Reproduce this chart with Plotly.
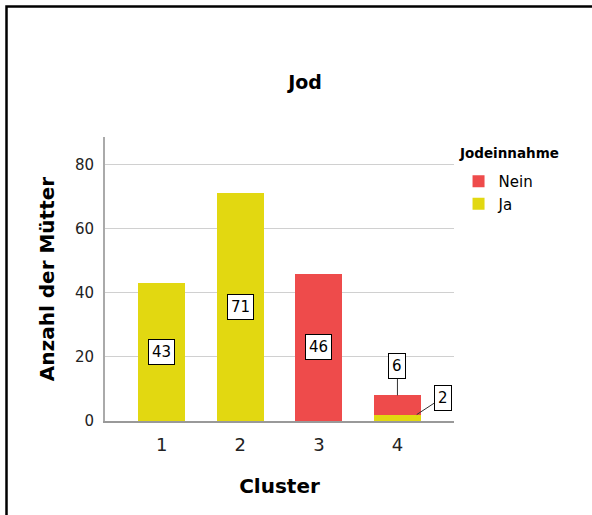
import plotly.graph_objects as go

clusters = [1, 2, 3, 4]
ja_values = [43, 71, 0, 2]
nein_values = [0, 0, 46, 6]
y_ticks = [0, 20, 40, 60, 80]

title_text = "Jod"
x_title = "Cluster"
y_title = "Anzahl der Mütter"
legend_title = "Jodeinnahme"

YELLOW = "#E2D811"
RED = "#EE4B4B"
FONT = "DejaVu Sans"

fig = go.Figure()
fig.add_trace(go.Bar(x=clusters, y=ja_values, name="Ja", marker=dict(color=YELLOW, line=dict(width=0)), width=0.6))
fig.add_trace(go.Bar(x=clusters, y=nein_values, name="Nein", marker=dict(color=RED, line=dict(width=0)), width=0.6))

annotations = []
label_style = dict(bgcolor="white", bordercolor="black", borderwidth=1, borderpad=3,
                   font=dict(family=FONT, size=15, color="black"), arrowcolor="#333333",
                   arrowwidth=1, arrowhead=0)
for i, c in enumerate(clusters):
    base = 0
    for val, kind in ((ja_values[i], "ja"), (nein_values[i], "nein")):
        if val:
            if val >= 10:
                annotations.append(dict(x=c, y=base + val / 2, text=str(val), showarrow=False, **label_style))
            elif kind == "nein":
                annotations.append(dict(x=c, y=base + val, text=str(val), showarrow=True, ax=0, ay=-29, **label_style))
            else:
                annotations.append(dict(x=c + 0.245, y=base + val, text=str(val), showarrow=True, ax=26, ay=-17, **label_style))
        base += val

# legend title (placed as paper-anchored text above the legend items)
annotations.append(dict(xref="paper", yref="paper", x=(457 - 105) / 349, y=(421 - 153) / 284,
                        xanchor="left", yanchor="middle", showarrow=False, text=legend_title,
                        font=dict(family=FONT, size=13.5, color="black", weight="bold")))

fig.update_layout(
    width=592, height=515,
    margin=dict(l=105, r=138, t=137, b=94),
    paper_bgcolor="white", plot_bgcolor="white",
    barmode="stack",
    title=dict(text=title_text, x=305 / 592, xanchor="center", y=1 - 82 / 515, yanchor="middle",
               font=dict(family=FONT, size=19, color="black", weight="bold")),
    xaxis=dict(range=[0.277, 4.72], tickvals=clusters, ticktext=[str(c) for c in clusters],
               showgrid=False, showline=True, linecolor="#999999", linewidth=2, ticks="",
               ticklabelstandoff=6,
               tickfont=dict(family=FONT, size=18, color="#222222"), zeroline=False,
               title=dict(text=x_title, font=dict(family=FONT, size=20, color="black", weight="bold"), standoff=25)),
    yaxis=dict(range=[0, 88.6], tickvals=y_ticks, showgrid=True, gridcolor="#D0D0D0", gridwidth=1,
               showline=True, linecolor="#AAAAAA", linewidth=2, ticks="", zeroline=False,
               ticklabelstandoff=6,
               tickfont=dict(family=FONT, size=15, color="#222222"),
               title=dict(text=y_title, font=dict(family=FONT, size=20, color="black", weight="bold"), standoff=15)),
    legend=dict(x=1.013, xanchor="left", y=(421 - 165) / 284, yanchor="top", traceorder="reversed",
                font=dict(family=FONT, size=15, color="black"), tracegroupgap=0, itemwidth=30),
    annotations=annotations,
    bargap=0.4,
)

# outer frame of the chart
fig.add_shape(type="rect", xref="paper", yref="paper",
              x0=(6.5 - 105) / 349, x1=(610 - 105) / 349,
              y0=(421 - 530) / 284, y1=(421 - 6.5) / 284,
              line=dict(color="black", width=2.5), fillcolor="rgba(0,0,0,0)", layer="above")

fig.write_html("out.html", config={"displayModeBar": False},
               post_script="document.body.style.margin='0';")
